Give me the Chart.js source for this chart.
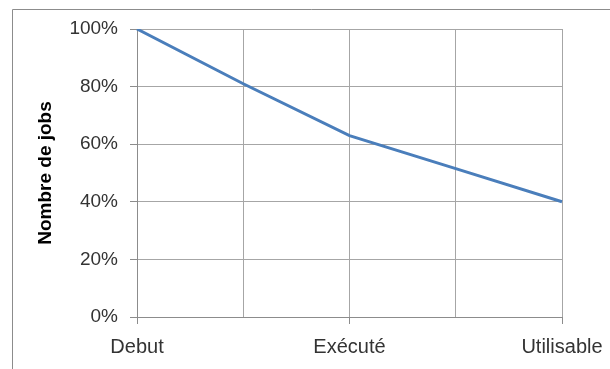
<!DOCTYPE html>
<html>
<head>
<meta charset="utf-8">
<script src="https://cdn.jsdelivr.net/npm/chart.js@4"></script>
<style>
  html, body { margin: 0; padding: 0; background: #fff; }
  #wrap { position: relative; width: 610px; height: 369px; }
</style>
</head>
<body>
<div id="wrap"><canvas id="jobs-chart" width="610" height="369"></canvas></div>
<script>
// Étapes du cycle de vie des jobs (une étiquette sur deux est vide)
const etapes = ['Debut', '', 'Exécuté', '', 'Utilisable'];
// Part des jobs restants, en %
const partJobs = [100, 81, 63, 51.5, 40];
const ticksY = [0, 20, 40, 60, 80, 100];

// cadre gris autour du graphique (seuls les bords haut et gauche sont visibles)
const cadre = {
  id: 'cadre',
  afterDraw(chart) {
    const ctx = chart.ctx;
    ctx.save();
    ctx.strokeStyle = '#8c8c8c';
    ctx.lineWidth = 1;
    ctx.beginPath();
    ctx.moveTo(12.5, 369);
    ctx.lineTo(12.5, 9.5);
    ctx.lineTo(610, 9.5);
    ctx.stroke();
    ctx.restore();
  }
};

const police = 'Liberation Sans, Arial, sans-serif';

const ctx = document.getElementById('jobs-chart').getContext('2d');
new Chart(ctx, {
  type: 'line',
  data: {
    labels: etapes,
    datasets: [{
      data: partJobs,
      borderColor: '#4a7ebb',
      borderWidth: 3,
      pointRadius: 0,
      tension: 0,
      fill: false
    }]
  },
  options: {
    responsive: false,
    animation: false,
    layout: { padding: { left: 0, top: 29, right: 48, bottom: 0 } },
    plugins: { legend: { display: false }, tooltip: { enabled: false } },
    scales: {
      x: {
        offset: false,
        grid: {
          color: '#a6a6a6',
          tickLength: 7,
          tickColor: c => (c.index % 2 === 0 ? '#8c8c8c' : 'rgba(0,0,0,0)')
        },
        border: { color: '#8c8c8c' },
        ticks: {
          autoSkip: false,
          maxRotation: 0,
          padding: 11,
          color: '#333',
          font: { family: police, size: 20 }
        },
        afterFit: s => { s.height = 52; s.paddingLeft = 0; s.paddingRight = 0; }
      },
      y: {
        min: 0,
        max: 100,
        afterBuildTicks: s => { s.ticks = ticksY.map(v => ({ value: v })); },
        grid: { color: '#a6a6a6', tickLength: 7, tickColor: '#8c8c8c' },
        border: { color: '#8c8c8c' },
        ticks: {
          padding: 12,
          color: '#333',
          font: { family: police, size: 19 },
          callback: v => v + '%'
        },
        title: {
          display: true,
          text: 'Nombre de jobs',
          color: '#000',
          padding: { top: 34, bottom: 0 },
          font: { family: police, size: 19, weight: 'bold' }
        },
        afterFit: s => { s.width = 137; s.paddingTop = 0; s.paddingBottom = 0; }
      }
    }
  },
  plugins: [cadre]
});
</script>
</body>
</html>
